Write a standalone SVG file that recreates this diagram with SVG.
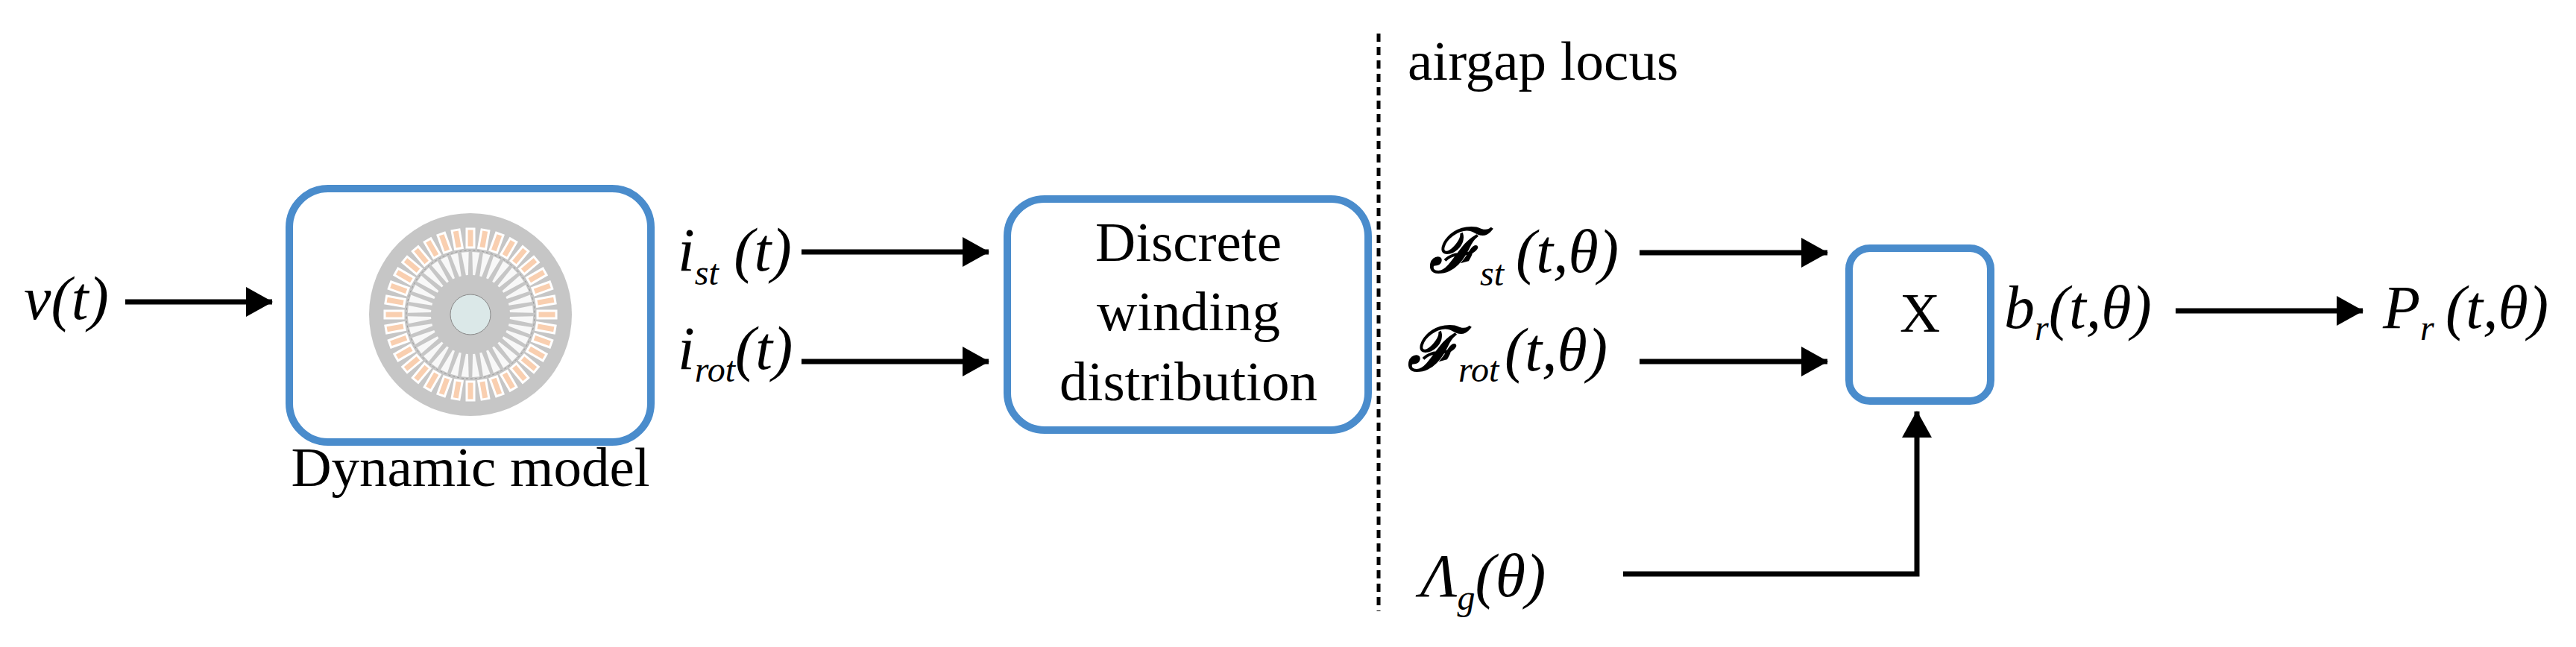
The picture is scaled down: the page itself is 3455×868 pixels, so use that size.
<svg xmlns="http://www.w3.org/2000/svg" xmlns:xlink="http://www.w3.org/1999/xlink" width="3455" height="868" viewBox="0 0 3455 868">
<style>
.box{fill:#fff;stroke:#4a8ccc;stroke-width:10}
.t{font-family:"Liberation Serif","Times New Roman","DejaVu Serif",serif;font-size:75px;fill:#000}
.m{font-family:"Liberation Serif","Times New Roman","DejaVu Serif",serif;font-style:italic;font-size:82px;fill:#000}
.s{font-size:48px}
.c{stroke:#000;stroke-width:7;fill:none}
</style>
<defs>
<marker id="ah" markerWidth="36" markerHeight="40" refX="35" refY="20" orient="auto" markerUnits="userSpaceOnUse" viewBox="0 0 36 40">
<path d="M0,0 L36,20 L0,40 Z" fill="#000"/>
</marker>
<g id="ss"><rect x="-5" y="-115" width="10" height="25" fill="#f9cfb0" stroke="#fff" stroke-width="3"/></g>
<g id="rs"><path d="M-5,-84 L5,-84 L1.5,-53 L-1.5,-53 Z" fill="#f8f8f8"/></g>
</defs>
<g id="dynamic">
<rect class="box" x="388" y="253" width="485" height="340" rx="52"/>
<g transform="translate(631,422)">
<circle r="136" fill="#c6c6c6"/>
<circle r="86" fill="none" stroke="#999" stroke-width="1" stroke-dasharray="3 3"/>
<g id="slots">
<use xlink:href="#ss"/><use xlink:href="#ss" transform="rotate(10)"/><use xlink:href="#ss" transform="rotate(20)"/><use xlink:href="#ss" transform="rotate(30)"/><use xlink:href="#ss" transform="rotate(40)"/><use xlink:href="#ss" transform="rotate(50)"/><use xlink:href="#ss" transform="rotate(60)"/><use xlink:href="#ss" transform="rotate(70)"/><use xlink:href="#ss" transform="rotate(80)"/><use xlink:href="#ss" transform="rotate(90)"/><use xlink:href="#ss" transform="rotate(100)"/><use xlink:href="#ss" transform="rotate(110)"/><use xlink:href="#ss" transform="rotate(120)"/><use xlink:href="#ss" transform="rotate(130)"/><use xlink:href="#ss" transform="rotate(140)"/><use xlink:href="#ss" transform="rotate(150)"/><use xlink:href="#ss" transform="rotate(160)"/><use xlink:href="#ss" transform="rotate(170)"/><use xlink:href="#ss" transform="rotate(180)"/><use xlink:href="#ss" transform="rotate(190)"/><use xlink:href="#ss" transform="rotate(200)"/><use xlink:href="#ss" transform="rotate(210)"/><use xlink:href="#ss" transform="rotate(220)"/><use xlink:href="#ss" transform="rotate(230)"/><use xlink:href="#ss" transform="rotate(240)"/><use xlink:href="#ss" transform="rotate(250)"/><use xlink:href="#ss" transform="rotate(260)"/><use xlink:href="#ss" transform="rotate(270)"/><use xlink:href="#ss" transform="rotate(280)"/><use xlink:href="#ss" transform="rotate(290)"/><use xlink:href="#ss" transform="rotate(300)"/><use xlink:href="#ss" transform="rotate(310)"/><use xlink:href="#ss" transform="rotate(320)"/><use xlink:href="#ss" transform="rotate(330)"/><use xlink:href="#ss" transform="rotate(340)"/><use xlink:href="#ss" transform="rotate(350)"/>
</g>
<g id="rslots">
<use xlink:href="#rs" transform="rotate(5)"/><use xlink:href="#rs" transform="rotate(15)"/><use xlink:href="#rs" transform="rotate(25)"/><use xlink:href="#rs" transform="rotate(35)"/><use xlink:href="#rs" transform="rotate(45)"/><use xlink:href="#rs" transform="rotate(55)"/><use xlink:href="#rs" transform="rotate(65)"/><use xlink:href="#rs" transform="rotate(75)"/><use xlink:href="#rs" transform="rotate(85)"/><use xlink:href="#rs" transform="rotate(95)"/><use xlink:href="#rs" transform="rotate(105)"/><use xlink:href="#rs" transform="rotate(115)"/><use xlink:href="#rs" transform="rotate(125)"/><use xlink:href="#rs" transform="rotate(135)"/><use xlink:href="#rs" transform="rotate(145)"/><use xlink:href="#rs" transform="rotate(155)"/><use xlink:href="#rs" transform="rotate(165)"/><use xlink:href="#rs" transform="rotate(175)"/><use xlink:href="#rs" transform="rotate(185)"/><use xlink:href="#rs" transform="rotate(195)"/><use xlink:href="#rs" transform="rotate(205)"/><use xlink:href="#rs" transform="rotate(215)"/><use xlink:href="#rs" transform="rotate(225)"/><use xlink:href="#rs" transform="rotate(235)"/><use xlink:href="#rs" transform="rotate(245)"/><use xlink:href="#rs" transform="rotate(255)"/><use xlink:href="#rs" transform="rotate(265)"/><use xlink:href="#rs" transform="rotate(275)"/><use xlink:href="#rs" transform="rotate(285)"/><use xlink:href="#rs" transform="rotate(295)"/><use xlink:href="#rs" transform="rotate(305)"/><use xlink:href="#rs" transform="rotate(315)"/><use xlink:href="#rs" transform="rotate(325)"/><use xlink:href="#rs" transform="rotate(335)"/><use xlink:href="#rs" transform="rotate(345)"/><use xlink:href="#rs" transform="rotate(355)"/>
</g>
<circle r="27" fill="#dbe8e8" stroke="#888" stroke-width="1"/>
</g>
<text class="t" x="631" y="652" text-anchor="middle">Dynamic model</text>
</g>
<g id="discrete">
<rect class="box" x="1351" y="267" width="484" height="310" rx="50"/>
<text class="t" x="1594" y="350" text-anchor="middle">Discrete</text>
<text class="t" x="1594" y="443" text-anchor="middle">winding</text>
<text class="t" x="1594" y="537" text-anchor="middle">distribution</text>
</g>
<g id="mult">
<rect class="box" x="2480" y="333" width="190" height="205" rx="28"/>
<text class="t" x="2575" y="445" text-anchor="middle">X</text>
</g>
<g id="labels">
<text class="m" x="32" y="428">v(t)</text>
<text class="m" x="909" y="363">i<tspan class="s" dy="19">st</tspan><tspan dy="-19"> (t)</tspan></text>
<text class="m" x="909" y="495">i<tspan class="s" dy="17">rot</tspan><tspan dy="-17">(t)</tspan></text>
<text class="t" x="1888" y="107" font-size="88">airgap locus</text>
<text class="m" x="1917" y="365" font-weight="bold">ℱ<tspan class="s" font-weight="normal" dy="18">st</tspan><tspan font-weight="normal" dy="-18" x="2033">(t,θ)</tspan></text>
<text class="m" x="1888" y="497" font-weight="bold">ℱ<tspan class="s" font-weight="normal" dy="15">rot</tspan><tspan font-weight="normal" dy="-15" x="2018">(t,θ)</tspan></text>
<text class="m" x="2688" y="440">b<tspan class="s" dy="16">r</tspan><tspan dy="-16">(t,θ)</tspan></text>
<text class="m" x="3196" y="440">P<tspan class="s" dy="16">r</tspan><tspan dy="-16" x="3280">(t,θ)</tspan></text>
<text class="m" x="1905" y="800">Λ<tspan class="s" dy="18">g</tspan><tspan dy="-18">(θ)</tspan></text>
</g>
<g id="connectors">
<line x1="1849" y1="45" x2="1849" y2="820" stroke="#000" stroke-width="5" stroke-dasharray="11 7"/>
<line class="c" x1="168" y1="405" x2="365" y2="405" marker-end="url(#ah)"/>
<line class="c" x1="1075" y1="338" x2="1326" y2="338" marker-end="url(#ah)"/>
<line class="c" x1="1075" y1="485" x2="1326" y2="485" marker-end="url(#ah)"/>
<line class="c" x1="2199" y1="339" x2="2451" y2="339" marker-end="url(#ah)"/>
<line class="c" x1="2199" y1="485" x2="2451" y2="485" marker-end="url(#ah)"/>
<line class="c" x1="2918" y1="417" x2="3169" y2="417" marker-end="url(#ah)"/>
<polyline class="c" points="2177,770 2571,770 2571,552" marker-end="url(#ah)"/>
</g>
</svg>
